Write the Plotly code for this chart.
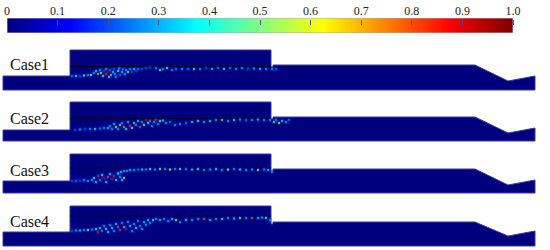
import numpy as np
import plotly.graph_objects as go

JET = [[0, "#00007f"], [0.125, "#0000ff"], [0.375, "#00ffff"], [0.625, "#ffff00"], [0.875, "#ff0000"], [1, "#7f0000"]]
TICK_VALS = [0, .1, .2, .3, .4, .5, .6, .7, .8, .9, 1.0]
TICK_TEXT = ["0", "0.1", "0.2", "0.3", "0.4", "0.5", "0.6", "0.7", "0.8", "0.9", "1.0"]
CASES = ["Case1", "Case2", "Case3", "Case4"]
LABEL_Y = [64, 118, 170, 221]

# Flume outline for each case (image-pixel coordinates)
OUTLINE_X = [3, 70, 70, 271, 271, 273, 273, 475, 508, 535, 535, 3, 3]
CASE1_Y = [76, 76, 50, 50, 67, 67, 65, 65, 81, 76, 90, 90, 76]
CASE2_Y = [130, 130, 102, 102, 119, 119, 117, 117, 133, 128, 141, 141, 130]
CASE3_Y = [181, 181, 154, 154, 171, 171, 169, 169, 185, 180, 193, 193, 181]
CASE4_Y = [232, 232, 206, 206, 224, 224, 222, 222, 236, 231, 246, 246, 232]

# Interface lines
LINE_X = [70, 271]
LINE_Y = [66.5, 118.5, 168, 216]

# Sediment speckles: x, y, value
S1_X = [72,76,80,84,88,91,94,96,98,100,101,103,104,106,106,108,109,110,111,113,114,115,116,118,119,120,122,123,125,126,128,130,132,134,136,138,142,146,150,156,160,163,167,172,176,182,188,194,200,206,212,218,224,230,236,242,248,254,260,266,272,276]
S1_Y = [76,76,76,75.5,75,75,73,71,74,70,73,76,71,69,74,72,77,70,75,72,69,74,77,71,68.5,75,72,69,74,70,72,69,72,69,71,69,69,68,67.5,68,70,69,68,70,69,69,69,69,69,68,69,68,69,68,69,68,69,68.5,69,69,69,69]
S1_V = [.25,.4,.2,.5,.3,.6,.3,.35,.7,.3,.55,.45,.9,.3,.85,.95,.4,.25,.7,.35,.2,.3,.3,.45,.3,.25,.35,.25,.3,.3,.5,.3,.2,.35,.2,.25,.2,.2,.2,.3,.45,.3,.5,.3,.25,.3,.25,.5,.3,.2,.35,.25,.4,.25,.3,.3,.2,.3,.35,.3,.3,.25]

S2_X = [75,80,85,90,95,100,104,108,110,112,114,116,118,120,122,124,126,128,130,132,134,136,138,140,142,144,146,148,150,152,154,156,158,160,163,166,170,175,180,186,192,198,204,210,216,222,228,234,240,246,252,258,264,270,274,276,279,282,286,289]
S2_Y = [130,129.5,129,129,129,128.5,128,128,126,129,124,127,129,125,123,127,129,122,126,128,123,125,121,127,122,125,120.5,123,121,126,122,120,124,121,120.5,123,122,125,124,123,122,121,122,121,120,120,121,120,119.5,120,120,119.5,120,120,122,120,123,121,122,120]
S2_V = [.2,.3,.2,.3,.4,.25,.3,.35,.3,.3,.35,.6,.3,.5,.3,.75,.4,.3,.85,.5,.7,.3,.35,.8,.3,.55,.9,.4,.8,.3,.3,.85,.3,.5,.35,.3,.25,.3,.3,.25,.35,.5,.3,.35,.3,.7,.3,.4,.3,.25,.3,.35,.3,.3,.5,.3,.6,.35,.3,.25]

S3_X = [72,76,80,84,88,92,94,96,98,100,102,104,106,108,110,112,114,116,118,120,122,124,118,121,124,127,130,134,138,142,146,150,155,160,165,170,175,180,186,192,198,204,210,216,222,228,234,240,246,252,258,264,268,272]
S3_Y = [181,181,180.5,180,181,180,178,182,176,180,175,178,182,177,174,179,176,180,174,177,180,178,173,172,171,171,170,170,169.5,169.5,169.5,169,169.5,169,169,169.5,169,169,169,169.5,169,170,169.5,169,170,169.5,169,169.5,170,169.5,170,169.5,170,172]
S3_V = [.2,.25,.2,.3,.3,.3,.4,.35,.85,.3,.4,.9,.35,.8,.35,.9,.85,.4,.3,.3,.35,.6,.3,.35,.3,.3,.35,.3,.25,.35,.3,.45,.3,.55,.3,.6,.3,.45,.3,.35,.5,.3,.3,.4,.3,.55,.3,.4,.3,.3,.6,.3,.35,.3]

S4_X = [72,76,80,84,88,92,96,98,100,102,104,106,108,110,112,114,116,118,120,122,124,126,128,130,132,134,136,138,140,142,144,146,148,150,153,156,160,164,168,172,176,180,186,192,198,204,210,216,222,228,234,240,246,252,258,262,266,270]
S4_Y = [231,230.5,230.5,230,230,229.5,229,232,228,231,226,229,232,225,228,231,224,227,230,223,227,229,222,226,231,224,228,221,226,229,222,225,220,223,220,219,220,219,221,219,220,222,220,220,219,219,220,219,219,218,218.5,218,218,218,218,217.5,218,220]
S4_V = [.2,.3,.35,.3,.6,.3,.45,.85,.35,.8,.3,.4,.35,.3,.35,.3,.35,.8,.85,.3,.35,.9,.3,.35,.3,.3,.45,.3,.3,.3,.35,.3,.35,.3,.4,.3,.35,.3,.3,.35,.6,.3,.4,.3,.3,.8,.35,.3,.45,.3,.35,.5,.3,.8,.35,.3,.55,.3]

fig = go.Figure()

for oy in [CASE1_Y, CASE2_Y, CASE3_Y, CASE4_Y]:
    fig.add_trace(go.Scatter(x=OUTLINE_X, y=oy, mode="lines", fill="toself", fillcolor="#00007f",
                             line=dict(color="#3a3aa8", width=1), hoverinfo="skip", showlegend=False))

for ly in LINE_Y:
    fig.add_trace(go.Scatter(x=LINE_X, y=[ly, ly], mode="lines", line=dict(color="#000028", width=1),
                             hoverinfo="skip", showlegend=False))

for sx, sy, sv in [(S1_X, S1_Y, S1_V), (S2_X, S2_Y, S2_V), (S3_X, S3_Y, S3_V), (S4_X, S4_Y, S4_V)]:
    # soft blue halo round the speckles
    fig.add_trace(go.Scatter(x=sx, y=sy, mode="markers", showlegend=False, hoverinfo="skip",
                             marker=dict(color="#0a46e0", size=5, opacity=0.25, line=dict(width=0))))
    fig.add_trace(go.Scatter(x=sx, y=sy, mode="markers", showlegend=False,
                             marker=dict(color=sv, colorscale=JET, cmin=0, cmax=1, size=2.4,
                                         opacity=0.7, line=dict(width=0))))

levels = np.linspace(0, 1, 256)
fig.add_trace(go.Heatmap(x=levels, y=[0, 1], z=[levels, levels], colorscale=JET, zmin=0, zmax=1,
                         showscale=False, xaxis="x2", yaxis="y2", hoverinfo="skip"))
fig.add_trace(go.Scatter(x=[0, 1, 1, 0, 0], y=[0, 0, 1, 1, 0], mode="lines", xaxis="x2", yaxis="y2",
                         line=dict(color="#a8a8b8", width=1), hoverinfo="skip", showlegend=False))

for name, y in zip(CASES, LABEL_Y):
    fig.add_annotation(x=8, y=y, text=name, xanchor="left", yanchor="middle", showarrow=False,
                       font=dict(family="Liberation Serif", size=16, color="#111111"))

fig.update_layout(
    width=550, height=250, margin=dict(l=0, r=0, t=0, b=0, autoexpand=False),
    paper_bgcolor="white", plot_bgcolor="white", showlegend=False,
    xaxis=dict(domain=[0, 1], range=[0, 550], visible=False, fixedrange=True, automargin=False),
    yaxis=dict(domain=[0, 1], range=[250, 0], visible=False, fixedrange=True, automargin=False),
    xaxis2=dict(domain=[7 / 550, 513 / 550], range=[0, 1], anchor="free", position=1 - 25 / 250,
                side="top", automargin=False,
                tickmode="array", tickvals=TICK_VALS, ticktext=TICK_TEXT, ticks="outside", ticklen=5,
                tickcolor="#50508a", tickwidth=1, showgrid=False, zeroline=False, showline=False,
                tickfont=dict(family="Liberation Serif", size=12, color="#222222")),
    yaxis2=dict(domain=[1 - 33 / 250, 1 - 18 / 250], range=[0, 1], anchor="x2", visible=False, automargin=False),
)
fig.write_html("out.html", config={"displayModeBar": False},
               post_script="document.body.style.margin='0';document.documentElement.style.overflow='hidden';")
